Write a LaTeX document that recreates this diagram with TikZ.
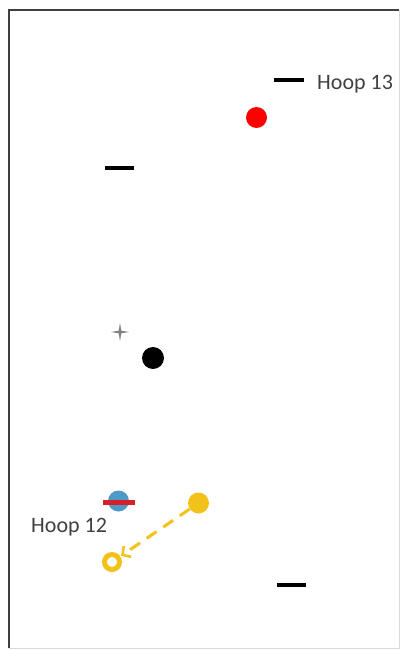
\documentclass[tikz,border=0pt]{standalone}
\usepackage{fontspec}
\setmainfont{Carlito}
\usetikzlibrary{arrows.meta}
\definecolor{gold}{HTML}{F2C21B}
\definecolor{hred}{HTML}{D81E28}
\definecolor{hblue}{HTML}{4D9AC8}
\tikzset{
  x=1pt,y=-1pt,
  dashmark/.style={line width=4pt,black},
  lbl/.style={font=\fontsize{22}{26}\selectfont,text=black!75,inner sep=0pt,anchor=west},
  dot/.style={circle,inner sep=0pt,minimum size=#1}
}
\begin{document}
\begin{tikzpicture}
\useasboundingbox (0,0) rectangle (402,650);
% frame
\draw[black!75,line width=2.5pt] (9,648) -- (9,10) -- (399,10);
\draw[black!15,line width=0.8pt] (399,10) -- (399,648) -- (9,648);
% dashes
\coordinate (d1a) at (274,80); \coordinate (d1b) at (304,80);
\draw[dashmark] (d1a) -- (d1b);
\coordinate (d2a) at (105,168); \coordinate (d2b) at (134,168);
\draw[dashmark] (d2a) -- (d2b);
\coordinate (d3a) at (277,584.5); \coordinate (d3b) at (306,584.5);
\draw[dashmark] (d3a) -- (d3b);
% labels
\node[lbl] (h13) at (317,84) {Hoop 13};
\node[lbl] (h12) at (31,527) {Hoop 12};
% red dot
\node[dot=21pt,fill=red] (red) at (256.5,117.5) {};
% gray star
\node (star) at (120,332) {};
\fill[gray] (120,323) -- (121.3,330.7) -- (129,332) -- (121.3,333.3) -- (120,341) -- (118.7,333.3) -- (111,332) -- (118.7,330.7) -- cycle;
% black dot
\node[dot=22pt,fill=black] (blk) at (153,358) {};
% blue/red
\node[dot=21pt,fill=hblue] (blue) at (118.5,501) {};
\fill[hred] (103,499.5) rectangle (135,504.5);
% yellow
\node[dot=21pt,fill=gold] (ydot) at (198.5,503) {};
\node[dot=15pt,draw=gold,line width=5pt,fill=white] (ycirc) at (112,562) {};
\draw[gold,line width=3pt,dash pattern=on 12pt off 8pt,shorten >=1pt,-{Straight Barb[length=6pt,width=13pt,line width=2.5pt]}] (ydot) -- (ycirc);
\end{tikzpicture}
\end{document}
